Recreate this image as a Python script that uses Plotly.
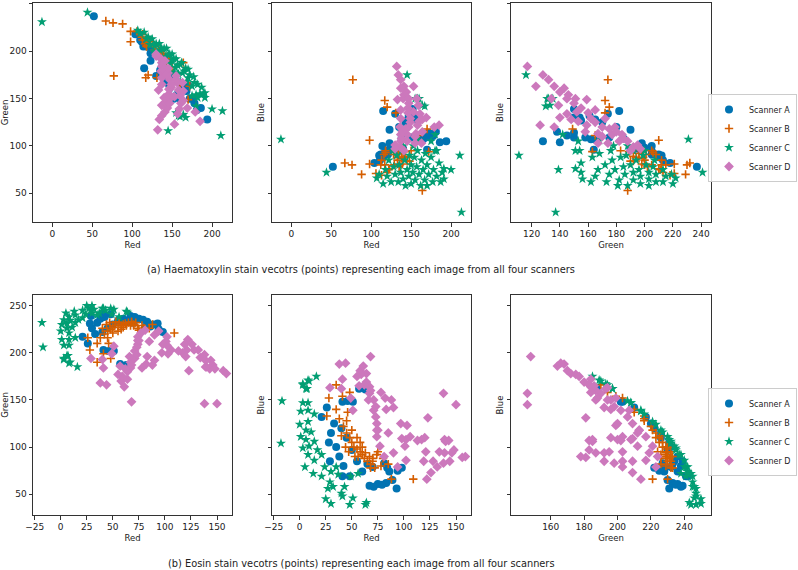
import plotly.graph_objects as go

# ---------------- data: stain vectors (Red, Green, Blue) per image ----------------
SCANNERS = ["Scanner A", "Scanner B", "Scanner C", "Scanner D"]
CHANNELS = ["Red", "Green", "Blue"]

# Haematoxylin
H_A = [(52,237,78),(104,218,82),(112,210,91),(114,205,100),(118,205,95),(111,213,85),(115,210,88),
       (121,205,91),(124,200,98),(123,190,117),(115,182,137),(130,174,134),(143,170,125),(147,161,132),
       (156,154,130),(170,164,96),(175,150,109),(194,128,105),(160,150,130),(158,155,127),(165,162,107),
       (162,166,106),(181,138,115),(138,185,108),(135,180,120),(150,175,109),(128,198,97),(133,195,97),
       (140,190,97),(168,158,109),(172,150,114),(152,150,139),(146,165,128),(178,145,111),(186,140,104),
       (110,212,90),(123,198,103)]
H_B = [(67,232,82),(76,230,80),(88,229,70),(98,221,81),(98,210,106),(77,174,170),(113,218,69),
       (117,212,80),(118,206,93),(117,172,148),(120,175,141),(131,172,135),(164,188,53),(172,163,94),
       (170,149,118),(160,165,111),(106,221,71),(112,215,80),(122,211,75),(150,183,95),(130,198,94),
       (135,196,92),(138,196,87),(140,194,88),(142,192,89),(145,192,84),(133,199,88),(136,193,96),
       (143,189,94),(128,201,91),(148,190,84),(139,198,81),(129,205,80),(123,210,76),(113,212,85),
       (136,200,80),(118,205,95),(116,208,91),(133,200,85),(135,202,78),(120,213,72)]
H_C = [(-13,231,107),(44,241,72),(211,111,90),(213,137,30),(145,116,175),(200,139,75),(180,142,112),
       (158,132,150),(164,133,143),(160,131,150),(155,135,150),(182,151,95),(191,151,76),(107,222,66),
       (167,130,142),(110,219,70),(115,220,60),(118,213,75),(120,215,68),(122,207,85),(125,213,62),
       (128,206,78),(130,208,70),(132,199,90),(134,208,62),(135,201,80),(137,203,72),(138,192,95),
       (140,203,65),(142,194,85),(143,203,58),(145,196,75),(147,197,68),(148,187,90),(150,190,80),
       (150,197,60),(152,192,72),(154,183,88),(155,192,64),(157,185,78),(158,176,95),(160,186,70),
       (162,188,58),(163,177,85),(165,179,75),(167,182,64),(168,168,92),(170,172,80),(170,181,58),
       (172,175,70),(175,163,88),(177,173,62),(178,167,75),(180,154,95),(182,165,68),(185,155,82),
       (187,162,62),(189,155,72),(191,156,65),(127,200,95),(140,188,100),(153,178,100),(160,168,106),
       (175,153,105)]
H_D = [(132,117,184),(134,128,175),(153,123,163),(137,132,170),(141,136,163),(144,140,157),(137,143,161),
       (141,146,154),(159,139,143),(161,145,134),(133,159,149),(146,155,140),(137,165,138),(149,162,129),
       (137,172,129),(147,170,120),(136,179,120),(145,177,112),(137,184,112),(137,188,105),(136,192,99),
       (130,195,101),(163,167,103),(155,174,103),(185,126,122),(179,136,120),(160,153,126),(158,159,122),
       (156,167,113),(140,151,150),(153,152,136),(157,134,150),(138,185,108),(139,180,115),(141,190,95),
       (143,175,118),(146,160,135),(147,150,145),(147,145,150),(155,170,110),(164,148,128),(169,140,130),
       (164,158,115),(145,182,105),(130,197,97),(149,165,125)]

# Eosin
E_A = [(21,217,132),(26,210,142),(41,203,148),(46,202,149),(51,202,148),(57,188,162),(63,187,161),
       (93,231,56),(67,239,59),(75,236,61),(83,233,62),(48,241,69),(60,236,74),(86,228,74),(29,239,85),
       (35,232,100),(30,226,115),(33,220,125),(40,222,120),(50,230,97),(65,233,82),(70,232,79),(84,228,78),
       (45,226,110),(38,236,90),(55,234,85),(28,231,105),(42,238,80),(89,230,65),(94,225,75),(79,235,60),
       (71,238,58),(98,222,78),(41,242,69),(81,227,83)]
E_B = [(109,221,66),(35,190,166),(46,210,137),(48,194,158),(28,203,152),(26,216,133),(41,199,154),
       (88,230,66),(38,216,130),(42,220,122),(45,223,115),(48,225,110),(50,227,105),(52,229,100),
       (55,229,98),(58,229,95),(60,230,92),(62,231,88),(65,232,85),(68,232,82),(72,232,78),(44,230,100),
       (40,226,112),(50,221,118),(55,223,110),(60,227,100),(63,229,94),(67,229,90),(75,224,95),(80,226,88),
       (85,226,82),(35,210,140),(45,216,128),(58,225,105),(70,229,88),(53,233,90),(47,232,95),(78,229,80),
       (70,230,85),(74,226,92),(68,233,78),(56,232,90)]
E_C = [(-18,232,104),(-17,206,149),(16,185,175),(9,190,170),(3,194,166),(7,197,162),(63,244,39),
       (8,189,171),(3,193,167),(6,197,162),(3,208,147),(8,208,147),(1,214,138),(8,214,139),(14,216,135),
       (0,223,124),(8,221,127),(6,226,118),(1,230,111),(11,227,116),(6,231,108),(14,232,106),(9,234,101),
       (3,235,99),(17,235,97),(8,238,92),(21,237,92),(14,240,86),(5,242,79),(24,241,79),(13,244,72),
       (21,245,69),(30,242,74),(37,242,71),(29,245,63),(32,246,58),(43,245,58),(40,247,51),(27,247,56),
       (25,250,45),(30,250,40),(48,247,39),(51,246,46),(64,243,41),(41,247,48),(56,238,72),(35,240,79),
       (49,241,69)]
E_D = [(68,148,196),(38,168,188),(41,184,172),(29,194,163),(58,170,181),(156,181,89),(138,146,157),
       (150,146,145),(90,192,142),(71,194,150),(61,164,186),(44,166,189),(64,172,178),(59,175,177),
       (64,180,169),(67,184,164),(67,190,157),(66,196,150),(71,202,139),(73,206,132),(74,209,125),
       (74,213,118),(74,217,111),(77,221,101),(81,224,90),(159,178,90),(143,183,107),(146,187,94),
       (144,192,85),(134,195,95),(138,198,83),(103,199,123),(121,203,95),(128,203,85),(126,209,73),
       (122,214,66),(106,203,111),(101,212,101),(102,217,86),(90,219,94),(94,223,79),(102,208,108),
       (117,200,108),(85,212,115),(51,207,139),(73,198,143),(75,213,118),(97,200,125),(113,202,107),
       (120,196,110),(123,181,131),(139,185,108),(148,183,97),(132,203,79),(119,209,85),(98,209,109),
       (83,196,140),(82,188,152),(68,187,160),(78,184,158),(62,183,166),(55,177,175),(57,186,165),
       (40,193,162),(49,199,152),(88,187,150),(140,185,106),(139,192,94)]

STAINS = [[H_A, H_B, H_C, H_D], [E_A, E_B, E_C, E_D]]
PANEL_AXES = [("Red", "Green"), ("Red", "Blue"), ("Green", "Blue")]
CAPTIONS = ["(a) Haematoxylin stain vecotrs (points) representing each image from all four scanners",
            "(b) Eosin stain vecotrs (points) representing each image from all four scanners"]

TOP_X_TICKS = [0, 50, 100, 150, 200]
TOP_G_TICKS = [120, 140, 160, 180, 200, 220, 240]
BOT_X_TICKS = [-25, 0, 25, 50, 75, 100, 125, 150]
BOT_G_TICKS = [160, 180, 200, 220, 240]
Y_TICKS = [50, 100, 150, 200, 250]

# ---------------- styling ----------------
COLORS = ["#0173B2", "#D55E00", "#029E73", "#CC78BC"]
FONT = "DejaVu Sans"
W, H = 798, 570

def marker(i):
    c = COLORS[i]
    if i == 0:
        return dict(symbol="circle", size=8, color=c, line=dict(width=0))
    if i == 1:
        return dict(symbol="cross-thin", size=6, color=c, line=dict(width=1.6, color=c))
    if i == 2:
        return dict(symbol="star", size=7.5, color=c, line=dict(width=0))
    return dict(symbol="diamond", size=7.5, color=c, line=dict(width=0))

XDOM = [(33 / W, 232 / W), (272 / W, 471 / W), (511 / W, 711 / W)]
YDOM = [(1 - 222 / H, 1 - 3 / H), (1 - 515 / H, 1 - 295 / H)]
XRANGES = [[(-24.2, 225), (-24.2, 225), (105.4, 247)],
           [(-26.6, 164.4), (-26.6, 164.4), (136.2, 256)]]
YRANGES = [(19.7, 251), (28, 261.3)]
XTICKS = [[TOP_X_TICKS, TOP_X_TICKS, TOP_G_TICKS], [BOT_X_TICKS, BOT_X_TICKS, BOT_G_TICKS]]

fig = go.Figure()
layout = {}
axis_common = dict(showline=True, mirror=True, linecolor="#333333", linewidth=1,
                   ticks="outside", ticklen=3.5, tickwidth=0.8, tickcolor="#333333",
                   showgrid=False, zeroline=False, automargin=False,
                   tickfont=dict(size=9, family=FONT, color="#222222"))

for r in range(2):
    for p in range(3):
        k = r * 3 + p + 1
        xa = "x" if k == 1 else f"x{k}"
        ya = "y" if k == 1 else f"y{k}"
        cx, cy = PANEL_AXES[p]
        ix, iy = CHANNELS.index(cx), CHANNELS.index(cy)
        for s in range(4):
            data = STAINS[r][s]
            fig.add_trace(go.Scatter(
                x=[t[ix] for t in data], y=[t[iy] for t in data],
                mode="markers", name=SCANNERS[s], marker=marker(s),
                xaxis=xa, yaxis=ya,
                showlegend=(p == 2), legend=("legend" if r == 0 else "legend2")))
        layout["xaxis" if k == 1 else f"xaxis{k}"] = dict(
            axis_common, domain=XDOM[p], range=XRANGES[r][p], tickvals=XTICKS[r][p],
            anchor=ya,
            title=dict(text=cx, standoff=3, font=dict(size=8.5, family=FONT, color="#222222")))
        layout["yaxis" if k == 1 else f"yaxis{k}"] = dict(
            axis_common, domain=YDOM[r], range=YRANGES[r], tickvals=Y_TICKS,
            showticklabels=(p == 0), anchor=xa,
            title=dict(text=cy, standoff=(3 if p == 0 else 1),
                       font=dict(size=8.5, family=FONT, color="#222222")))

legend_common = dict(xanchor="right", yanchor="middle", bgcolor="rgba(255,255,255,0.8)",
                     bordercolor="#cccccc", borderwidth=1, itemwidth=30,
                     font=dict(size=8, family=FONT, color="#222222"), tracegroupgap=0)
layout["legend"] = dict(legend_common, x=797 / W, y=1 - 138 / H)
layout["legend2"] = dict(legend_common, x=797 / W, y=1 - 432 / H)

fig.update_layout(**layout)
fig.update_layout(
    width=W, height=H, margin=dict(l=0, r=0, t=0, b=0),
    plot_bgcolor="white", paper_bgcolor="white",
    font=dict(family=FONT, color="#222222"),
    annotations=[
        dict(text=CAPTIONS[0], x=361 / W, y=1 - 270 / H, xref="paper", yref="paper",
             showarrow=False, xanchor="center", yanchor="middle",
             font=dict(size=9.8, family=FONT, color="#222222")),
        dict(text=CAPTIONS[1], x=361 / W, y=1 - 563 / H, xref="paper", yref="paper",
             showarrow=False, xanchor="center", yanchor="middle",
             font=dict(size=9.8, family=FONT, color="#222222")),
    ],
)

fig.write_html("out.html", config={"displayModeBar": False},
               post_script="document.body.style.margin='0px';document.body.style.padding='0px';")
